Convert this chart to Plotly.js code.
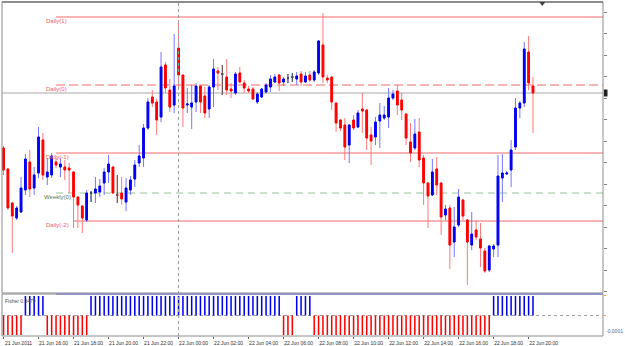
<!DOCTYPE html>
<html><head><meta charset="utf-8">
<script src="https://cdn.plot.ly/plotly-3.0.1.min.js"></script>
<style>html,body{margin:0;padding:0;background:#fff}#c{width:625px;height:346px}</style>
</head><body><div id="c"></div>
<script>
// ---- data (EURUSD M15, 21-22 Jun 2011) ----
const firstBar = '2011-06-21 14:00';
const barMinutes = 15;
const open = [1.43860,1.43755,1.43585,1.43510,1.43540,1.43650,1.43790,1.43660,1.43735,1.43900,
1.43715,1.43725,1.43790,1.43765,1.43765,1.43760,1.43740,1.43615,1.43570,1.43500,
1.43635,1.43635,1.43640,1.43685,1.43740,1.43765,1.43625,1.43635,1.43590,1.43650,
1.43705,1.43785,1.43810,1.43960,1.44115,1.44090,1.44015,1.44275,1.44150,1.44075,
1.44360,1.44225,1.44075,1.44065,1.44090,1.44170,1.44120,1.44055,1.44165,1.44245,
1.44230,1.44215,1.44155,1.44135,1.44235,1.44185,1.44155,1.44155,1.44090,1.44115,
1.44140,1.44165,1.44190,1.44225,1.44190,1.44210,1.44215,1.44205,1.44230,1.44190,
1.44225,1.44200,1.44235,1.44375,1.44210,1.44215,1.44085,1.44000,1.43975,1.43875,
1.44000,1.43965,1.44055,1.44050,1.43925,1.43915,1.43995,1.44010,1.44015,1.44110,
1.44145,1.44100,1.44030,1.43890,1.43860,1.43940,1.43810,1.43685,1.43625,1.43755,
1.43685,1.43525,1.43560,1.43390,1.43475,1.43600,1.43500,1.43375,1.43450,1.43405,
1.43345,1.43250,1.43355,1.43375,1.43710,1.43730,1.43750,1.43865,1.44060,1.44085,
1.44340,1.44170];
const high = [1.43870,1.43760,1.43590,1.43570,1.43715,1.43830,1.43850,1.43765,1.43965,1.43935,
1.43810,1.43835,1.43810,1.43810,1.43800,1.43785,1.43745,1.43620,1.43575,1.43650,
1.43645,1.43715,1.43705,1.43760,1.43825,1.43770,1.43725,1.43715,1.43710,1.43720,
1.43800,1.43875,1.43980,1.44110,1.44150,1.44105,1.44340,1.44290,1.44205,1.44430,
1.44500,1.44225,1.44160,1.44175,1.44185,1.44175,1.44165,1.44175,1.44305,1.44265,
1.44275,1.44305,1.44185,1.44240,1.44265,1.44200,1.44170,1.44165,1.44140,1.44160,
1.44185,1.44225,1.44230,1.44230,1.44215,1.44230,1.44235,1.44240,1.44245,1.44240,
1.44245,1.44250,1.44400,1.44535,1.44225,1.44215,1.44085,1.44005,1.44010,1.43980,
1.44025,1.44050,1.44135,1.44055,1.43965,1.44015,1.44085,1.44070,1.44160,1.44150,
1.44175,1.44135,1.44035,1.43985,1.44005,1.44010,1.43825,1.43690,1.43805,1.43815,
1.43690,1.43575,1.43575,1.43565,1.43655,1.43605,1.43505,1.43540,1.43500,1.43485,
1.43360,1.43375,1.43380,1.43825,1.43830,1.43745,1.43900,1.44110,1.44095,1.44390,
1.44420,1.44215];
const low = [1.43725,1.43550,1.43335,1.43500,1.43535,1.43625,1.43615,1.43625,1.43710,1.43700,
1.43675,1.43710,1.43760,1.43715,1.43700,1.43635,1.43460,1.43460,1.43435,1.43490,
1.43590,1.43585,1.43615,1.43625,1.43685,1.43630,1.43585,1.43575,1.43545,1.43625,
1.43665,1.43765,1.43765,1.43950,1.44065,1.43925,1.43990,1.44135,1.44040,1.44035,
1.44160,1.43965,1.44035,1.43955,1.44040,1.44035,1.44010,1.44010,1.44065,1.44150,
1.44125,1.44125,1.44110,1.44125,1.44185,1.44135,1.44135,1.44100,1.44080,1.44110,
1.44135,1.44140,1.44185,1.44145,1.44170,1.44185,1.44190,1.44175,1.44170,1.44185,
1.44190,1.44190,1.44225,1.44185,1.44185,1.44050,1.43940,1.43945,1.43800,1.43785,
1.43950,1.43960,1.43935,1.43850,1.43775,1.43875,1.43860,1.44000,1.43960,1.44100,
1.44025,1.44000,1.43875,1.43790,1.43850,1.43765,1.43575,1.43460,1.43620,1.43625,
1.43425,1.43500,1.43255,1.43315,1.43465,1.43500,1.43175,1.43350,1.43400,1.43265,
1.43235,1.43240,1.43315,1.43315,1.43590,1.43725,1.43665,1.43850,1.44010,1.44065,
1.44150,1.43935];
const close = [1.43750,1.43560,1.43520,1.43560,1.43660,1.43805,1.43655,1.43725,1.43915,1.43725,
1.43740,1.43820,1.43775,1.43780,1.43750,1.43750,1.43615,1.43575,1.43510,1.43635,
1.43635,1.43655,1.43670,1.43740,1.43780,1.43635,1.43625,1.43605,1.43660,1.43700,
1.43775,1.43820,1.43960,1.44090,1.44085,1.44000,1.44265,1.44160,1.44065,1.44170,
1.44225,1.44060,1.44080,1.44085,1.44170,1.44090,1.44035,1.44165,1.44255,1.44235,
1.44230,1.44150,1.44145,1.44230,1.44190,1.44160,1.44145,1.44105,1.44130,1.44155,
1.44175,1.44205,1.44215,1.44185,1.44205,1.44210,1.44215,1.44220,1.44190,1.44220,
1.44200,1.44240,1.44395,1.44215,1.44200,1.44090,1.43985,1.43960,1.43865,1.43975,
1.43960,1.44035,1.44045,1.43910,1.43895,1.43990,1.44025,1.44025,1.44110,1.44130,
1.44075,1.44050,1.43910,1.43835,1.43930,1.43800,1.43685,1.43620,1.43740,1.43675,
1.43515,1.43555,1.43375,1.43465,1.43615,1.43520,1.43390,1.43430,1.43415,1.43360,
1.43245,1.43370,1.43370,1.43720,1.43735,1.43735,1.43850,1.44060,1.44085,1.44355,
1.44185,1.44135];
const fisher = [-1,-1,-1,-1,-1,1,1,1,1,1,
-1,-1,-1,-1,-1,-1,-1,-1,-1,-1,
1,1,1,1,1,1,1,1,1,1,
1,1,1,1,1,1,1,1,1,1,
1,1,1,1,1,1,1,1,1,1,
1,1,1,1,1,1,1,1,1,1,
1,1,1,1,-1,-1,-1,1,1,1,
1,-1,-1,-1,-1,-1,-1,-1,-1,-1,
-1,-1,-1,-1,-1,-1,-1,-1,-1,-1,
-1,-1,-1,-1,-1,-1,-1,-1,-1,-1,
-1,-1,-1,-1,-1,-1,-1,-1,-1,-1,
-1,-1,1,1,1,1,1,1,1,1,
1,1];
const fisherLabel = 'Fisher 0.3479';
const levelNames = ['Daily(1)','Daily(0)','Daily(-1)','Weekly(0)','Daily(-2)'];
const levelPrices = [1.44515,1.44175,1.43835,1.43635,1.43495];
const levelStartBar = [12,12,12,12,16];
const daySeparator = '2011-06-22 00:00';
const tickTimes = ['2011-06-21 14:00','2011-06-21 16:00','2011-06-21 18:00','2011-06-21 20:00','2011-06-21 22:00',
'2011-06-22 00:00','2011-06-22 02:00','2011-06-22 04:00','2011-06-22 06:00','2011-06-22 08:00','2011-06-22 10:00',
'2011-06-22 12:00','2011-06-22 14:00','2011-06-22 16:00','2011-06-22 18:00','2011-06-22 20:00'];
const tickLabels = ['21 Jun 2011','21 Jun 16:00','21 Jun 18:00','21 Jun 20:00','21 Jun 22:00',
'22 Jun 00:00','22 Jun 02:00','22 Jun 04:00','22 Jun 06:00','22 Jun 08:00','22 Jun 10:00',
'22 Jun 12:00','22 Jun 14:00','22 Jun 16:00','22 Jun 18:00','22 Jun 20:00'];
const subAxisLabel = '-0.0001';

// ---- helpers ----
const barMs = barMinutes*60000;
const t0 = Date.parse(firstBar.replace(' ','T')+':00Z');
function fmt(ms){ return new Date(ms).toISOString().slice(0,19).replace('T',' '); }
function tAt(k){ return fmt(t0 + k*barMs); }
const times = open.map((_,i)=>tAt(i));
const bodyHi = open.map((o,i)=>Math.max(o,close[i]));
const bodyLo = open.map((o,i)=>Math.min(o,close[i]));
const flat = open.map((o,i)=>o===close[i]?i:-1).filter(i=>i>=0);
const pick = (a,idx)=>idx.map(i=>a[i]);
const xStart = tAt(-0.35), xEnd = tAt(137.0);

const BLUE='#0000f0', RED='#ff0000', LBLUE='#7474ff', LRED='#ff7878';
const FONT='Liberation Sans';

const traces = [
 {type:'candlestick', x:times, open:open, high:high, low:low, close:close,
  increasing:{line:{color:LBLUE,width:1},fillcolor:LBLUE},
  decreasing:{line:{color:LRED,width:1},fillcolor:LRED},
  whiskerwidth:0, hoverinfo:'skip', xaxis:'x', yaxis:'y'},
 {type:'candlestick', x:times, open:open, high:bodyHi, low:bodyLo, close:close,
  increasing:{line:{color:BLUE,width:1},fillcolor:BLUE},
  decreasing:{line:{color:RED,width:1},fillcolor:RED},
  whiskerwidth:0, hoverinfo:'skip', xaxis:'x', yaxis:'y'},
 {type:'candlestick', x:pick(times,flat), open:pick(open,flat), high:pick(high,flat), low:pick(low,flat), close:pick(close,flat),
  increasing:{line:{color:'#505050',width:1},fillcolor:'#505050'},
  decreasing:{line:{color:'#505050',width:1},fillcolor:'#505050'},
  whiskerwidth:0, hoverinfo:'skip', xaxis:'x', yaxis:'y'},
 {type:'bar', x:times, y:fisher, width:barMs*0.35,
  marker:{color:fisher.map(v=>v>0?BLUE:RED), line:{width:0}},
  hoverinfo:'skip', xaxis:'x', yaxis:'y2'}
];

const shapes = [];
const annotations = [];
levelNames.forEach((nm,k)=>{
  const weekly = nm.indexOf('Weekly')===0;
  const dashed = nm==='Daily(0)' || weekly;
  shapes.push({type:'line', layer:'below', xref:'x', yref:'y', x0:tAt(levelStartBar[k]), x1:xEnd,
    y0:levelPrices[k], y1:levelPrices[k],
    line:{color: weekly?'#98c098':'#f26a6a', width:1, dash: dashed?(weekly?'7px,5px':'9px,4px'):'solid'}});
  annotations.push({xref:'paper', yref:'y', x: weekly?0.068:0.0715, y:levelPrices[k], xanchor:'left', yanchor:'top',
    yshift:0, text:nm, showarrow:false, borderpad:0,
    font:{family:FONT, size:6, color: weekly?'#5e7a50':'#f05a6a'}});
});
// bid line at last close
const last = close[close.length-1];
shapes.push({type:'line', layer:'below', xref:'paper', yref:'y', x0:0, x1:1, y0:last, y1:last, line:{color:'#a8a8a8', width:1}});
// price marker on right scale
shapes.push({type:'rect', xref:'paper', yref:'y', x0:1.0015, x1:1.0075, ysizemode:'pixel', yanchor:last, y0:-3.5, y1:3.5,
  fillcolor:'#202020', line:{width:0}});
// day separator
shapes.push({type:'line', xref:'x', yref:'paper', x0:daySeparator, x1:daySeparator, y0:0, y1:1, line:{color:'#9a9a9a', width:1, dash:'dot'}});
// zero level in sub window
shapes.push({type:'line', layer:'below', xref:'paper', yref:'y2', x0:0, x1:1, y0:0, y1:0, line:{color:'#a0a0a0', width:1, dash:'dot'}});
// frames
shapes.push({type:'rect', xref:'paper', yref:'y domain', x0:0, x1:1, y0:0, y1:1, line:{color:'#8c8c8c', width:1}});
shapes.push({type:'line', xref:'paper', yref:'paper', x0:0, x1:1, y0:1, y1:1, line:{color:'#8c8c8c', width:2}});
shapes.push({type:'rect', xref:'paper', yref:'y2 domain', x0:0, x1:1, y0:0, y1:1, line:{color:'#8c8c8c', width:1}});
shapes.push({type:'line', xref:'paper', yref:'y2 domain', x0:0.09, x1:1, y0:1, y1:1, line:{color:'#9494c4', width:2}});
// shift marker (top)
shapes.push({type:'path', xref:'paper', yref:'paper', path:'M 0.894 1 L 0.904 1 L 0.899 0.988 Z', fillcolor:'#404040', line:{width:0}});

annotations.push({xref:'paper', yref:'y2 domain', x:0.004, y:1, xanchor:'left', yanchor:'top', yshift:-3,
  text:fisherLabel, showarrow:false, borderpad:0, font:{family:FONT, size:5, color:'#505050'}});
annotations.push({xref:'paper', yref:'y2 domain', x:1.003, y:0, xanchor:'left', yanchor:'bottom', yshift:1,
  text:subAxisLabel, showarrow:false, borderpad:0, font:{family:FONT, size:5, color:'#5a6a80'}});

const layout = {
  width:625, height:346, margin:{l:2,r:22,t:2,b:10},
  paper_bgcolor:'#ffffff', plot_bgcolor:'#ffffff', showlegend:false, boxgap:0.45,
  xaxis:{type:'date', range:[xStart,xEnd], anchor:'y2', rangeslider:{visible:false},
    tickvals:tickTimes, ticktext:tickLabels, ticks:'outside', ticklen:2, tickcolor:'#606060',
    tickfont:{family:FONT, size:5, color:'#303030'}, ticklabelshift:15, ticklabelstandoff:0,
    showgrid:false, zeroline:false, showline:false, automargin:false},
  yaxis:{domain:[0.1287,1], range:[1.43135,1.44590], side:'right', ticks:'outside', ticklen:3, tickcolor:'#808080',
    tick0:1.4454, dtick:0.001075, showticklabels:false, showgrid:false, zeroline:false, automargin:false},
  yaxis2:{domain:[0,0.1257], range:[-1.05,1.1], side:'right', showgrid:false, zeroline:false, showticklabels:false,
    ticks:'outside', tickvals:[1,0], ticklen:2, tickcolor:'#f0a030', automargin:false},
  shapes:shapes, annotations:annotations
};
Plotly.newPlot('c', traces, layout, {staticPlot:true, displayModeBar:false});
</script></body></html>
